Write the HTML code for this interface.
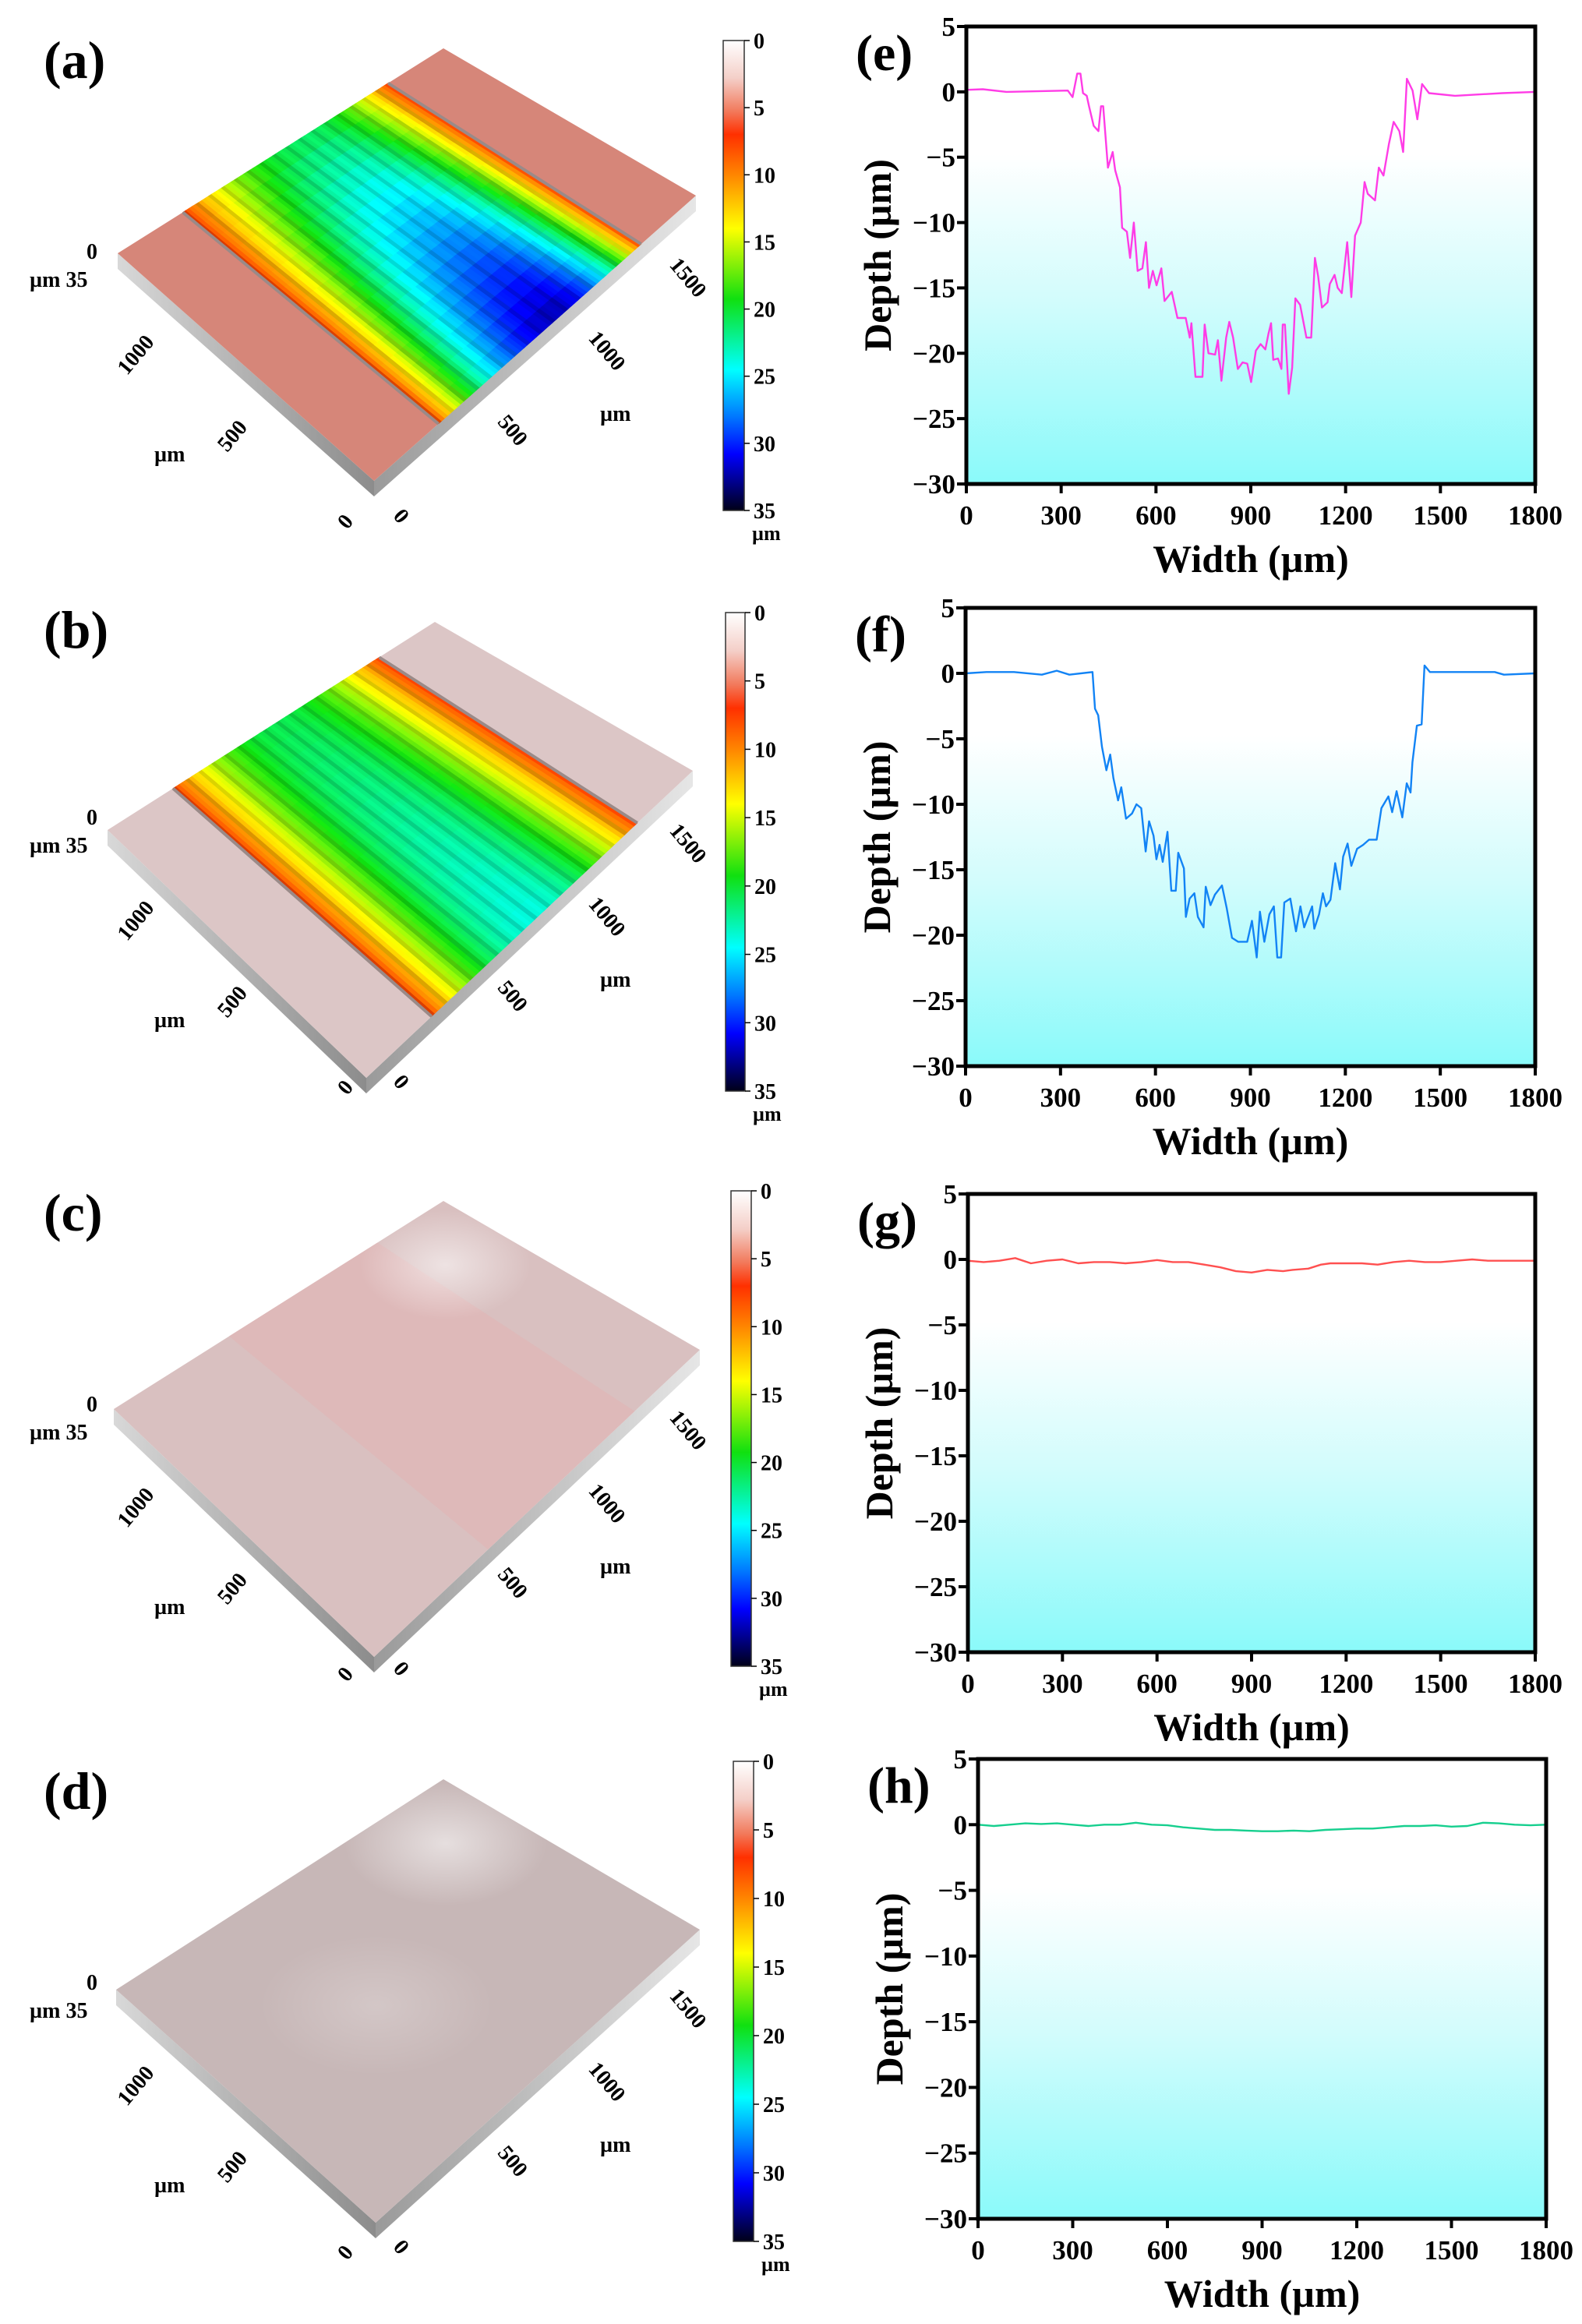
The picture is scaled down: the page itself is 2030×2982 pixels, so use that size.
<!DOCTYPE html>
<html><head><meta charset="utf-8"><style>
html,body{margin:0;padding:0;background:#fff;}
svg{display:block;}
text{font-family:"Liberation Serif",serif;}
</style></head><body>
<svg id="fig" xmlns="http://www.w3.org/2000/svg" width="2030" height="2982" viewBox="0 0 2030 2982">
<defs>
<linearGradient id="bgGrad" x1="0" y1="0" x2="0" y2="1">
<stop offset="0" stop-color="#ffffff"/><stop offset="0.28" stop-color="#ffffff"/><stop offset="0.6" stop-color="#d2fcfc"/><stop offset="1" stop-color="#8afafa"/>
</linearGradient>
<linearGradient id="cbGrad" x1="0" y1="0" x2="0" y2="1">
<stop offset="0" stop-color="#ffffff"/><stop offset="0.08" stop-color="#f4cfc8"/><stop offset="0.15" stop-color="#f27a5c"/><stop offset="0.2" stop-color="#ff3000"/><stop offset="0.29" stop-color="#ff8a00"/><stop offset="0.4" stop-color="#ffff00"/><stop offset="0.55" stop-color="#10e010"/><stop offset="0.7" stop-color="#00ffff"/><stop offset="0.8" stop-color="#0078ff"/><stop offset="0.88" stop-color="#0000ff"/><stop offset="1" stop-color="#000018"/>
</linearGradient>
<linearGradient id="sideL" x1="0" y1="0" x2="1" y2="0"><stop offset="0" stop-color="#d8d8d8"/><stop offset="1" stop-color="#8c8c8c"/></linearGradient>
<linearGradient id="sideR" x1="0" y1="0" x2="1" y2="0"><stop offset="0" stop-color="#9a9a9a"/><stop offset="1" stop-color="#e6e6e6"/></linearGradient>
<radialGradient id="gloss" cx="0.5" cy="0.5" r="0.5"><stop offset="0" stop-color="#ffffff" stop-opacity="0.55"/><stop offset="1" stop-color="#ffffff" stop-opacity="0"/></radialGradient>
</defs>
</svg>
<script>
// ---------- chart data ----------
const xTicks = [0,300,600,900,1200,1500,1800];
const yTicks = [5,0,-5,-10,-15,-20,-25,-30];
const eX = [0,52,127,321,336,351,361,369,381,388,403,418,426,433,448,463,471,486,493,508,518,530,542,557,568,578,590,602,617,627,650,668,694,707,712,725,747,754,766,787,796,807,822,832,844,859,874,889,901,916,931,946,956,964,971,986,997,1001,1008,1020,1031,1041,1056,1076,1091,1103,1113,1125,1143,1150,1165,1175,1188,1205,1218,1230,1248,1260,1270,1293,1305,1320,1337,1352,1370,1382,1394,1412,1427,1442,1464,1546,1696,1800];
const eY = [0.15,0.2,0,0.1,-0.4,1.4,1.4,-0.1,-0.3,-1.1,-2.6,-3.0,-1.1,-1.1,-5.8,-4.6,-6.0,-7.3,-10.4,-10.7,-12.7,-10.0,-13.7,-13.5,-11.5,-15.0,-13.7,-14.8,-13.5,-16.0,-15.3,-17.3,-17.3,-18.8,-17.7,-21.8,-21.8,-17.8,-20.0,-20.1,-19.0,-22.1,-18.8,-17.6,-18.8,-21.2,-20.7,-20.8,-22.2,-19.8,-19.3,-19.7,-18.5,-17.7,-20.5,-20.4,-21.2,-17.8,-17.8,-23.1,-21.1,-15.8,-16.3,-18.8,-18.8,-12.7,-14.1,-16.5,-16.1,-14.7,-14.0,-15.0,-15.4,-11.5,-15.7,-11.0,-10.0,-6.9,-7.8,-8.3,-5.8,-6.4,-4.0,-2.3,-3.0,-4.6,1.0,0.1,-2.1,0.6,-0.1,-0.3,-0.1,0];
const fX = [0,66,153,241,288,328,401,409,419,431,445,457,467,482,492,507,526,540,555,569,580,594,603,613,623,638,650,664,672,690,696,708,723,734,752,759,774,788,810,825,842,861,890,905,920,930,944,960,974,985,997,1007,1026,1044,1058,1070,1095,1102,1117,1129,1139,1153,1168,1183,1193,1207,1219,1237,1256,1275,1299,1314,1336,1348,1362,1380,1394,1406,1412,1426,1441,1450,1467,1555,1672,1701,1800];
const fY = [0,0.1,0.1,-0.1,0.2,-0.1,0.1,-2.7,-3.2,-5.6,-7.4,-6.2,-8.0,-9.7,-8.7,-11.1,-10.7,-10.0,-10.3,-13.6,-11.3,-12.4,-14.2,-13.1,-14.4,-12.1,-16.6,-16.6,-13.7,-14.9,-18.6,-17.2,-16.8,-18.6,-19.4,-16.3,-17.7,-16.9,-16.2,-17.9,-20.2,-20.5,-20.5,-18.9,-21.7,-18.2,-20.5,-18.4,-17.8,-21.7,-21.7,-17.5,-17.2,-19.7,-17.8,-19.4,-17.8,-19.5,-18.4,-16.8,-17.8,-17.3,-14.5,-16.5,-14.0,-13.0,-14.7,-13.4,-13.1,-12.7,-12.7,-10.3,-9.4,-10.6,-9.0,-11.0,-8.4,-9.1,-6.8,-4.0,-3.9,0.6,0.1,0.1,0.1,-0.1,0];
const gX = [0,50,100,150,200,250,300,350,400,450,500,550,600,650,700,750,800,850,900,950,1000,1030,1080,1120,1150,1200,1250,1300,1350,1400,1450,1500,1550,1600,1650,1700,1750,1800];
const gY = [-0.1,-0.2,-0.1,0.1,-0.3,-0.1,0,-0.3,-0.2,-0.2,-0.3,-0.2,-0.05,-0.2,-0.2,-0.4,-0.6,-0.9,-1.0,-0.8,-0.9,-0.8,-0.7,-0.4,-0.3,-0.3,-0.3,-0.4,-0.2,-0.1,-0.2,-0.2,-0.1,0,-0.1,-0.1,-0.1,-0.1];
const hX = [0,50,100,150,200,250,300,350,400,450,500,550,600,650,700,750,800,850,900,950,1000,1050,1100,1150,1200,1250,1300,1350,1400,1450,1500,1550,1600,1650,1700,1750,1800];
const hY = [0,-0.1,0,0.1,0.05,0.1,0,-0.1,0,0,0.15,0,-0.05,-0.2,-0.3,-0.4,-0.4,-0.45,-0.5,-0.5,-0.45,-0.5,-0.4,-0.35,-0.3,-0.3,-0.2,-0.1,-0.1,-0.05,-0.15,-0.1,0.15,0.1,0,-0.05,0];

const NS='http://www.w3.org/2000/svg';
const svg=document.getElementById('fig');
function mk(tag,attrs,parent){const e=document.createElementNS(NS,tag);for(const k in attrs)e.setAttribute(k,attrs[k]);(parent||svg).appendChild(e);return e;}
function txt(s,attrs,parent){const e=mk('text',attrs,parent);e.textContent=s;return e;}

const charts=[
 {id:'e',L:1240,R:1970,T:34,B:621,xs:eX,ys:eY,col:'#ff3ce6'},
 {id:'f',L:1239,R:1970,T:780,B:1368,xs:fX,ys:fY,col:'#1283f5'},
 {id:'g',L:1242,R:1970,T:1532,B:2120,xs:gX,ys:gY,col:'#ff5050'},
 {id:'h',L:1255,R:1984,T:2257,B:2847,xs:hX,ys:hY,col:'#16cf8e'}
];
charts.forEach(c=>{
  const g=mk('g',{});
  
  
  const sx=v=>c.L+(v-0)/(1800-0)*(c.R-c.L);
  const sy=v=>c.T+(5-v)/(35)*(c.B-c.T);
  const bg=mk('rect',{x:c.L,y:c.T,width:c.R-c.L,height:c.B-c.T,fill:'url(#bgGrad)'},g);
  
  
  let d='';
  c.xs.forEach((x,i)=>{d+=(i?'L':'M')+sx(x).toFixed(1)+','+sy(c.ys[i]).toFixed(1);});
  const ln=mk('path',{d:d,fill:'none',stroke:c.col,'stroke-width':2.4,'stroke-linejoin':'round'},g);
  
  
  const fr=mk('rect',{x:c.L,y:c.T,width:c.R-c.L,height:c.B-c.T,fill:'none',stroke:'#000','stroke-width':5},g);
  
  
  yTicks.forEach(v=>{
    mk('line',{x1:c.L-12,x2:c.L,y1:sy(v),y2:sy(v),stroke:'#000','stroke-width':4},g);
    const t=txt(v<0?'\u2212'+(-v):String(v),{x:c.L-14,y:sy(v)+12,'text-anchor':'end','font-size':35,'font-weight':'bold'},g);
    
    
  });
  xTicks.forEach(v=>{
    mk('line',{x1:sx(v),x2:sx(v),y1:c.B,y2:c.B+12,stroke:'#000','stroke-width':4},g);
    const t=txt(String(v),{x:sx(v),y:c.B+52,'text-anchor':'middle','font-size':35,'font-weight':'bold'},g);
    
    
  });
  const xt=txt('Width (\u00b5m)',{x:(c.L+c.R)/2,y:c.B+113,'text-anchor':'middle','font-size':50,'font-weight':'bold'},g);
  
  
  const cy=(c.T+c.B)/2;
  const yt=txt('Depth (\u00b5m)',{x:c.L-97,y:cy,'text-anchor':'middle','font-size':50,'font-weight':'bold',transform:'rotate(-90 '+(c.L-97)+' '+cy+')'},g);
  
  
  const pl=txt('('+c.id+')',{x:c.L-142,y:c.T+56,'font-size':66,'font-weight':'bold'},g);
  
  
});

// ---------- 3D surface panels ----------
const cbStops=[[0,'#ffffff'],[0.08,'#f4cfc8'],[0.15,'#f27a5c'],[0.2,'#ff3000'],[0.29,'#ff8a00'],[0.4,'#ffff00'],[0.55,'#10e010'],[0.7,'#00ffff'],[0.8,'#0078ff'],[0.88,'#0000ff'],[1,'#000018']];
function hex(c){return [parseInt(c.slice(1,3),16),parseInt(c.slice(3,5),16),parseInt(c.slice(5,7),16)];}
function lerpRGB(stops,u){
  u=Math.max(0,Math.min(1,u));
  for(let i=0;i<stops.length-1;i++){
    if(u>=stops[i][0]&&u<=stops[i+1][0]){
      const t=(u-stops[i][0])/(stops[i+1][0]-stops[i][0]);
      const a=hex(stops[i][1]),b=hex(stops[i+1][1]);
      return a.map((v,k)=>v+(b[k]-v)*t);
    }
  }
  return hex(stops[stops.length-1][1]);
}
function rgb(a,shade){return 'rgb('+a.map(v=>Math.round(Math.max(0,Math.min(255,v*shade)))).join(',')+')';}
// depth (µm) across the track t in [0,1], with factor along stripe v
const panels=[
 {id:'a',T:[569,62],R:[893,251],B:[480,617],L:[151,325],dy:0,base:'#d68679',dmax:30,peak:0.6,vf:[0.6,0.5],cb:[928,52,955,655]},
 {id:'b',T:[558,798],R:[889,989],B:[470,1383],L:[138,1065],dy:736,base:'#dcc6c6',dmax:23,peak:0.5,vf:[0.85,0.2],cb:[931,786,956,1400]},
 {id:'c',T:[569,1541],R:[898,1732],B:[480,2126],L:[146,1808],dy:1479,base:'#d9c0c0',dmax:0,peak:0.5,vf:[1,0],cb:[938,1528,964,2138]},
 {id:'d',T:[569,2283],R:[898,2476],B:[482,2852],L:[149,2553],dy:2221,base:'#c7b7b7',dmax:-1,peak:0.5,vf:[1,0],cb:[941,2260,967,2876]}
];
const cbTicks=[0,5,10,15,20,25,30,35];
function P(p,u,v){
  const a=[p.L[0]+(p.T[0]-p.L[0])*u,p.L[1]+(p.T[1]-p.L[1])*u];
  const b=[p.B[0]+(p.R[0]-p.B[0])*u,p.B[1]+(p.R[1]-p.B[1])*u];
  return [a[0]+(b[0]-a[0])*v,a[1]+(b[1]-a[1])*v];
}
function pts(a){return a.map(p=>p[0].toFixed(1)+','+p[1].toFixed(1)).join(' ');}
panels.forEach(p=>{
  const g=mk('g',{});
  
  
  const th=20;
  const sl=mk('polygon',{points:pts([p.L,p.B,[p.B[0],p.B[1]+th],[p.L[0],p.L[1]+th]]),fill:'url(#sideL)'},g);
  
  
  const sr=mk('polygon',{points:pts([p.B,p.R,[p.R[0],p.R[1]+th],[p.B[0],p.B[1]+th]]),fill:'url(#sideR)'},g);
  
  
  const top=mk('polygon',{points:pts([p.L,p.T,p.R,p.B]),fill:p.base},g);
  
  
  const u0=0.2,u1=0.83;
  if(p.dmax>0){
    const Nu=64,Nv=16;
    for(let i=0;i<Nu;i++){
      const ua=u0+(u1-u0)*i/Nu,ub=u0+(u1-u0)*(i+1)/Nu;
      const t=(i+0.5)/Nu;
      // asymmetric bowl shape peaking at p.peak
      const s=t<p.peak?t/p.peak:(1-t)/(1-p.peak);
      const shape=Math.pow(Math.sin(Math.PI/2*s),0.8);
      const stripe=(i%4===0)?0.86:((i%4===2)?1.05:1);
      for(let j=0;j<Nv;j++){
        const va=j/Nv,vb=(j+1)/Nv,v=(j+0.5)/Nv;
        const dep=7+(p.dmax-7)*shape*(p.vf[0]+p.vf[1]*v);
        const col=rgb(lerpRGB(cbStops,dep/35),stripe);
        mk('polygon',{points:pts([P(p,ua,va),P(p,ub,va),P(p,ub,vb),P(p,ua,vb)]),fill:col,stroke:col,'stroke-width':0.7},g);
      }
    }
    // edge walls (grey rims)
    [u0,u1].forEach(u=>{const a=P(p,u,0),b=P(p,u,1);mk('line',{x1:a[0],y1:a[1],x2:b[0],y2:b[1],stroke:'#9a8a88','stroke-width':4},g);});
  } else if(p.dmax===0){
    const tr=mk('polygon',{points:pts([P(p,0.35,0),P(p,0.8,0),P(p,0.8,1),P(p,0.35,1)]),fill:'#e2b2b2',opacity:0.55},g);
    
    
    mk('ellipse',{cx:P(p,0.85,0.2)[0],cy:P(p,0.85,0.2)[1],rx:110,ry:70,fill:'url(#gloss)'},g);
  } else {
    mk('ellipse',{cx:P(p,0.85,0.2)[0],cy:P(p,0.85,0.2)[1],rx:130,ry:80,fill:'url(#gloss)'},g);
    mk('ellipse',{cx:P(p,0.4,0.5)[0],cy:P(p,0.4,0.5)[1],rx:150,ry:90,fill:'url(#gloss)',opacity:0.4},g);
  }
  const ox=0,oy=p.dy+(p.id==='b'?-10:0);
  const fs=28;
  const labs=[['0',111,332,0],['\u00b5m  35',38,368,0],['1000',181,461,-50],['500',305,565,-50],['\u00b5m',198,592,0],['0',450,675,-50],['0',508,668,50],['500',651,558,50],['\u00b5m',770,540,0],['1000',772,456,50],['1500',876,362,50]];
  labs.forEach(l=>{
    const x=l[1]+ox,y=l[2]+oy;
    const t=txt(l[0],{x:x,y:y,'font-size':fs,'font-weight':'bold','text-anchor':l[3]?'middle':'start',transform:l[3]?'rotate('+l[3]+' '+x+' '+y+')':''},g);
    
    
  });
  const pl=txt('('+p.id+')',{x:56,y:p.dy+100+(p.id==='b'?-5:0),'font-size':68,'font-weight':'bold'},g);
  
  
  const [x0,y0,x1,y1]=p.cb;
  const cb=mk('rect',{x:x0,y:y0,width:x1-x0,height:y1-y0,fill:'url(#cbGrad)',stroke:'#333','stroke-width':1.5},g);
  
  
  cbTicks.forEach(v=>{
    const y=y0+v/35*(y1-y0);
    mk('line',{x1:x1,x2:x1+7,y1:y,y2:y,stroke:'#000','stroke-width':1.5},g);
    const t=txt(String(v),{x:x1+12,y:y+10,'font-size':28,'font-weight':'bold'},g);
    
    
  });
  const u=txt('\u00b5m',{x:x1+10,y:y1+38,'font-size':26,'font-weight':'bold'},g);
  
  
});
</script>
</body></html>
